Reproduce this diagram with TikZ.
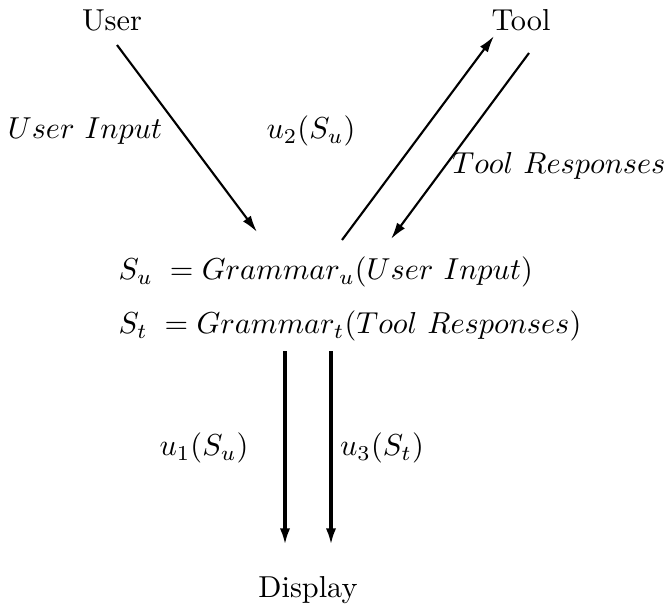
\documentclass[tikz,border=0pt]{standalone}
\usetikzlibrary{arrows.meta}
\begin{document}
\begin{tikzpicture}[x=0.33pt,y=-0.33pt,
  lbl/.style={inner sep=0pt},
  flow/.style={line width=0.7pt,-{Latex[length=5.5pt,width=3.2pt]}},
  outflow/.style={line width=1.1pt,-{Latex[length=5.5pt,width=3.4pt]}}]
\useasboundingbox (0,0) rectangle (665,611);
% endpoints
\node[lbl] (user) at (112,20) {User};
\node[lbl] (tool) at (521,20) {Tool};
\node[lbl] (display) at (308,590) {Display};
\node[lbl,anchor=west] (equ) at (118,272) {$S_u \;= Grammar_u(User\ Input)$};
\node[lbl,anchor=west] (eqt) at (118,326) {$S_t \;= Grammar_t(Tool\ Responses)$};
% arrow endpoints
\coordinate (ua) at (117,45);
\coordinate (ub) at (257,232);
\coordinate (ta) at (342,240);
\coordinate (tb) at (494,36);
\coordinate (ra) at (529,53);
\coordinate (rb) at (391,239);
\coordinate (d1a) at (285,351);
\coordinate (d1b) at (285,545);
\coordinate (d2a) at (331,351);
\coordinate (d2b) at (331,545);
% connectors
\draw[flow] (ua) -- (ub);
\draw[flow] (ta) -- (tb);
\draw[flow] (ra) -- (rb);
\draw[outflow] (d1a) -- (d1b);
\draw[outflow] (d2a) -- (d2b);
% labels
\node[lbl] (inlbl) at (85,131) {$User\ Input$};
\node[lbl] (u2lbl) at (311,131) {$u_2(S_u)$};
\node[lbl] (trlbl) at (559,166) {$Tool\ Responses$};
\node[lbl] (u1lbl) at (204,448) {$u_1(S_u)$};
\node[lbl] (u3lbl) at (382,448) {$u_3(S_t)$};
\end{tikzpicture}
\end{document}
